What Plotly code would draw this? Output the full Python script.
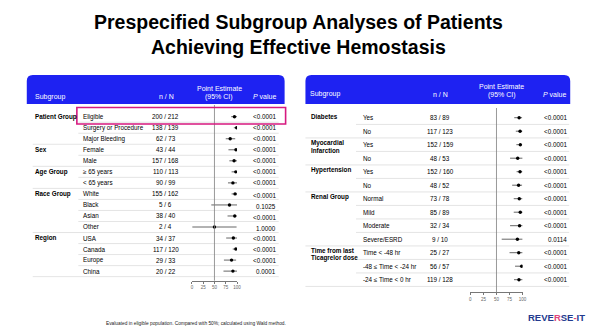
import plotly.graph_objects as go

W, H = 600, 332
FONT = "Liberation Sans, Arial, sans-serif"

# ---------------- data: left table ----------------
left_groups = ["Patient Group", "", "", "Sex", "", "Age Group", "", "Race Group", "", "", "",
               "Region", "", "", ""]
left_subgroups = ["Eligible", "Surgery or Procedure", "Major Bleeding", "Female", "Male",
                  "≥ 65 years", "< 65 years", "White", "Black", "Asian", "Other",
                  "USA", "Canada", "Europe", "China"]
left_nN = ["200 / 212", "138 / 139", "62 / 73", "43 / 44", "157 / 168", "110 / 113", "90 / 99",
           "155 / 162", "5 / 6", "38 / 40", "2 / 4", "34 / 37", "117 / 120", "29 / 33", "20 / 22"]
left_est = [94.3, 99.3, 84.9, 97.7, 93.5, 97.3, 90.9, 95.7, 83.3, 95.0, 50.0, 91.9, 97.5, 87.9, 90.9]
left_lo = [87.0, 93.0, 75.0, 81.0, 83.0, 88.0, 80.0, 88.0, 43.0, 79.0, 1.0, 76.0, 90.5, 71.0, 70.0]
left_hi = [100.0, 100.0, 96.0, 100.0, 100.0, 100.0, 100.0, 100.0, 100.0, 99.0, 99.0, 100.0, 100.0, 98.0, 100.0]
left_p = ["<0.0001", "<0.0001", "<0.0001", "<0.0001", "<0.0001", "<0.0001", "<0.0001",
          "<0.0001", "0.1025", "<0.0001", "1.0000", "<0.0001", "<0.0001", "<0.0001", "0.0001"]

# ---------------- data: right table ----------------
right_groups = ["Diabetes", "", "Myocardial<br>Infarction", "", "Hypertension", "",
                "Renal Group", "", "", "", "Time from last<br>Ticagrelor dose", "", ""]
right_subgroups = ["Yes", "No", "Yes", "No", "Yes", "No", "Normal", "Mild", "Moderate",
                   "Severe/ESRD", "Time < -48 hr", "-48 ≤ Time < -24 hr", "-24 ≤ Time < 0 hr"]
right_nN = ["83 / 89", "117 / 123", "152 / 159", "48 / 53", "152 / 160", "48 / 52", "73 / 78",
            "85 / 89", "32 / 34", "9 / 10", "25 / 27", "56 / 57", "119 / 128"]
right_est = [93.3, 95.1, 95.6, 90.6, 95.0, 92.3, 93.6, 95.5, 94.1, 90.0, 92.6, 98.2, 93.0]
right_lo = [84.0, 87.0, 88.0, 76.0, 88.5, 80.0, 83.0, 83.0, 76.0, 60.0, 75.0, 85.5, 83.5]
right_hi = [99.0, 99.5, 99.0, 100.0, 99.5, 99.0, 99.6, 100.0, 100.0, 100.0, 100.0, 100.0, 100.0]
right_p = ["<0.0001"] * 9 + ["0.0114", "<0.0001", "<0.0001", "<0.0001"]

axis_ticks = [0, 25, 50, 75, 100]
axis_ticklabels = ["0", "25", "50", "75", "100"]


def X(p):
    return p / W


def Y(p):
    return 1 - p / H


fig = go.Figure()


# ---------------- forest traces ----------------
def forest(est, lo, hi, xa, ya):
    n = len(est)
    fig.add_trace(go.Scatter(
        x=est, y=list(range(n)), mode="markers",
        marker=dict(color="black", size=3.4),
        error_x=dict(type="data", symmetric=False,
                     array=[h - e for e, h in zip(est, hi)],
                     arrayminus=[e - l for e, l in zip(est, lo)],
                     width=0, thickness=0.9, color="#555555"),
        xaxis=xa, yaxis=ya, showlegend=False, hoverinfo="skip"))


forest(left_est, left_lo, left_hi, "x", "y")
forest(right_est, right_lo, right_hi, "x2", "y2")

# geometry (pixels)
L = dict(top=105.0, bottom=280.7, r0=116.7, pitch=11.03)
R = dict(top=108.0, bottom=292.3, r0=117.7, pitch=13.5)


def yrange(g):
    return [(g["bottom"] - g["r0"]) / g["pitch"], -(g["r0"] - g["top"]) / g["pitch"]]


axis_common = dict(range=[0, 100], tickvals=axis_ticks, ticktext=axis_ticklabels,
                   ticks="outside", ticklen=2, tickwidth=0.6, tickcolor="#777",
                   showline=True, linecolor="#777", linewidth=0.6, showgrid=False,
                   zeroline=False, tickfont=dict(size=4.5, color="#666", family=FONT),
                   fixedrange=True)
yaxis_common = dict(showgrid=False, zeroline=False, showticklabels=False, showline=False,
                    ticks="", fixedrange=True)

fig.update_layout(
    width=W, height=H, margin=dict(l=0, r=0, t=0, b=0),
    paper_bgcolor="white", plot_bgcolor="rgba(0,0,0,0)",
    font=dict(family=FONT, color="black"),
    xaxis=dict(domain=[X(192.5), X(238.0)], anchor="y", **axis_common),
    yaxis=dict(domain=[Y(L["bottom"]), Y(L["top"])], range=yrange(L), anchor="x", **yaxis_common),
    xaxis2=dict(domain=[X(473.3), X(526.0)], anchor="y2", **axis_common),
    yaxis2=dict(domain=[Y(R["bottom"]), Y(R["top"])], range=yrange(R), anchor="x2", **yaxis_common),
)

shapes = []
annotations = []


def rounded_top(x0, x1, y0, y1, r, color):
    path = (f"M {X(x0)},{Y(y1)} L {X(x0)},{Y(y0 + r)} Q {X(x0)},{Y(y0)} {X(x0 + r)},{Y(y0)} "
            f"L {X(x1 - r)},{Y(y0)} Q {X(x1)},{Y(y0)} {X(x1)},{Y(y0 + r)} L {X(x1)},{Y(y1)} Z")
    return dict(type="path", path=path, xref="paper", yref="paper",
                fillcolor=color, line=dict(width=0), layer="below")


HEADER_BLUE = "#1e22f2"
shapes.append(rounded_top(26, 286, 75, 104, 6, HEADER_BLUE))
shapes.append(rounded_top(307, 574, 75, 104, 6, HEADER_BLUE))


def txt(x, y, text, size=6.3, anchor="left", color="black", yref="paper", yshift=0, bold=False):
    if bold:
        text = f"<b>{text}</b>"
    annotations.append(dict(x=x, y=y, xref="paper", yref=yref, text=text, showarrow=False,
                            xanchor=anchor, yanchor="middle", yshift=yshift,
                            font=dict(size=size, color=color, family=FONT)))


# headers
HS = 7.0
txt(X(32), Y(96.5), "Subgroup", HS, "left", "white")
txt(X(167), Y(96.5), "n / N", HS, "center", "white")
txt(X(220), Y(88.3), "Point Estimate", HS, "center", "white")
txt(X(220), Y(97), "(95% CI)", HS, "center", "white")
txt(X(279), Y(96.5), "<i>P</i> value", HS, "right", "white")

txt(X(310), Y(94.3), "Subgroup", HS, "left", "white")
txt(X(443), Y(94.3), "n / N", HS, "center", "white")
txt(X(505), Y(87), "Point Estimate", HS, "center", "white")
txt(X(505), Y(95), "(95% CI)", HS, "center", "white")
txt(X(572), Y(94.3), "<i>P</i> value", HS, "right", "white")

# left rows
for i in range(len(left_subgroups)):
    if left_groups[i]:
        txt(X(32), i, left_groups[i], yref="y", bold=True)
    txt(X(80.5), i, left_subgroups[i], yref="y")
    txt(X(166), i, left_nN[i], anchor="center", yref="y")
    ysh = -1.5 if 7 <= i <= 10 else 0
    txt(X(279.5), i, left_p[i], anchor="right", yref="y", yshift=ysh)

left_starts = [i for i, g in enumerate(left_groups) if g]
for i in range(len(left_subgroups)):
    full = (i + 1) in left_starts or i == len(left_subgroups) - 1
    shapes.append(dict(type="line", xref="paper", yref="y", x0=X(32 if full else 78), x1=X(280),
                       y0=i + 0.5, y1=i + 0.5, line=dict(color="#d9d9d9", width=0.7), layer="below"))

# right rows
for i in range(len(right_subgroups)):
    g = right_groups[i]
    if g:
        if "<br>" in g:
            a, b = g.split("<br>")
            txt(X(310.5), i, a, yref="y2", yshift=2.2, bold=True)
            txt(X(310.5), i, b, yref="y2", yshift=-5.6, bold=True)
        else:
            txt(X(310.5), i, g, yref="y2", yshift=1.5, bold=True)
    txt(X(363), i, right_subgroups[i], yref="y2")
    txt(X(443), i, right_nN[i], anchor="center", yref="y2")
    txt(X(573), i, right_p[i], anchor="right", yref="y2")

right_starts = [i for i, g in enumerate(right_groups) if g]
for i in range(len(right_subgroups)):
    full = (i + 1) in right_starts or i == len(right_subgroups) - 1
    shapes.append(dict(type="line", xref="paper", yref="y2", x0=X(307 if full else 358), x1=X(573),
                       y0=i + 0.5, y1=i + 0.5, line=dict(color="#d9d9d9", width=0.7), layer="below"))

# reference lines at 50%
shapes.append(dict(type="line", xref="x", yref="y domain", x0=50, x1=50, y0=0, y1=1,
                   line=dict(color="#808080", width=0.8)))
shapes.append(dict(type="line", xref="x2", yref="y2 domain", x0=50, x1=50, y0=0, y1=1,
                   line=dict(color="#808080", width=0.8)))

# highlight box around Eligible
shapes.append(dict(type="rect", xref="paper", yref="paper", x0=X(76.5), x1=X(287),
                   y0=Y(124), y1=Y(107.5), line=dict(color="#d6197f", width=1.6),
                   fillcolor="rgba(0,0,0,0)"))

# title
txt(0.5, Y(22), "Prespecified Subgroup Analyses of Patients", 19.5, "center", bold=True)
txt(0.5, Y(47), "Achieving Effective Hemostasis", 19.5, "center", bold=True)

# footnote
txt(X(104), Y(323.3),
    "Evaluated in eligible population. Compared with 50%; calculated using Wald method.",
    4.8, "left", "#222")

# logo
annotations.append(dict(
    x=X(591), y=Y(317), xref="paper", yref="paper", showarrow=False,
    xanchor="right", yanchor="middle",
    text=("<b><span style='color:#233a8e'>REVE</span><span style='color:#e0457b'>R</span>"
          "<span style='color:#233a8e'>SE</span><span style='color:#e0457b'>-</span>"
          "<span style='color:#233a8e'>IT</span></b>"),
    font=dict(size=9.5, family=FONT)))

fig.update_layout(shapes=shapes, annotations=annotations)
fig.write_html("out.html")
